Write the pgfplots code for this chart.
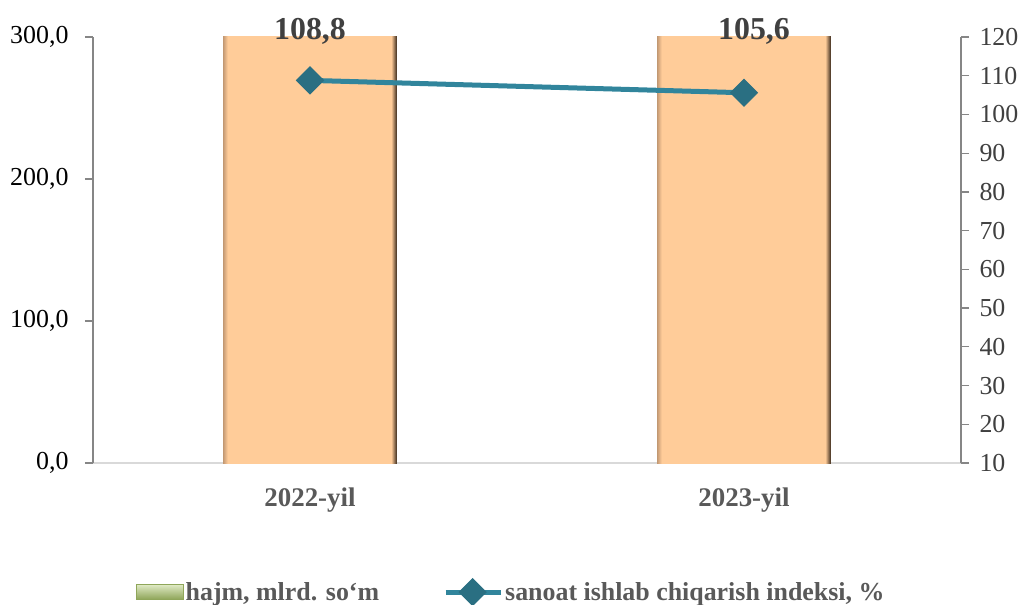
\documentclass[border=0pt]{standalone}
\usepackage{fontspec}
\setmainfont{Liberation Serif}
\usepackage{pgfplots}
\pgfplotsset{compat=1.18}

\definecolor{peach}{HTML}{FFCC99}
\definecolor{edgeL}{HTML}{C49A74}
\definecolor{edgeR}{HTML}{3B2A1C}
\definecolor{linecol}{HTML}{31859C}
\definecolor{markcol}{HTML}{2A6F82}
\definecolor{axisgray}{HTML}{868686}
\definecolor{basegray}{HTML}{D9D9D9}
\definecolor{txtgray}{HTML}{595959}
\definecolor{lblgray}{HTML}{404040}
\definecolor{legbarA}{HTML}{E2ECC8}
\definecolor{legbarB}{HTML}{8FA65A}

% peach bars with a dark right edge and a light brown left edge
\pgfdeclarehorizontalshading{barshade}{100bp}{color(0bp)=(edgeL); color(25bp)=(edgeL);
  color(26.3bp)=(peach); color(73.4bp)=(peach); color(75bp)=(edgeR); color(100bp)=(edgeR)}

\begin{document}
\begin{tikzpicture}
\useasboundingbox (-93bp,-142bp) rectangle (934bp,463bp);

% bars, left axis
\begin{axis}[
  at={(0,0)}, anchor=south west,
  scale only axis, width=868bp, height=426bp,
  xmin=-0.5, xmax=1.5, ymin=0, ymax=300,
  axis y line*=left, axis x line*=bottom,
  x axis line style={draw=basegray, line width=1.3bp, -},
  y axis line style={draw=axisgray, line width=1.3bp, -},
  xtick={0,1}, xticklabels={2022-yil,2023-yil},
  major x tick style={draw=none},
  x tick label style={font=\fontsize{27}{31}\selectfont\bfseries, text=txtgray, yshift=-13bp},
  ytick={0,100,200,300},
  y tick style={draw=axisgray, line width=1.3bp},
  tick align=outside, major tick length=8bp,
  y tick label style={font=\fontsize{26}{30}\selectfont, text=black, xshift=-13bp},
  /pgf/number format/.cd, fixed, fixed zerofill, precision=1, use comma, assume math mode=true,
  /pgfplots/.cd,
  clip mode=individual,
]
% values above 300 are cut off at the top of the axis, as in the source
\addplot[ybar, bar width=0.4, draw=none, shading=barshade] coordinates {(0,330)};
\addplot[ybar, bar width=0.4, draw=none, shading=barshade] coordinates {(1,330)};
\end{axis}

% production index, right axis
\begin{axis}[
  at={(0,0)}, anchor=south west,
  scale only axis, width=868bp, height=426bp,
  xmin=-0.5, xmax=1.5, ymin=10, ymax=120,
  axis y line*=right, hide x axis,
  y axis line style={draw=axisgray, line width=1.3bp, -},
  ytick={10,20,...,120},
  y tick style={draw=axisgray, line width=1.3bp},
  tick align=outside, major tick length=8bp,
  y tick label style={font=\fontsize{26}{30}\selectfont, text=lblgray, xshift=7bp},
  /pgf/number format/assume math mode=true,
  clip mode=individual,
  legend columns=2,
  legend style={draw=none, fill=none, at={(0.482,-0.303)}, anchor=center,
    font=\fontsize{26}{30}\selectfont\bfseries, text=txtgray,
    /tikz/every even column/.append style={column sep=62bp}},
]
\addlegendimage{legend image code/.code={
  \shade[top color=legbarA, bottom color=legbarB, draw=legbarB] (0bp,-7bp) rectangle (47bp,8bp);}}
\addlegendentry{hajm, mlrd. so‘m}

\addplot[linecol, line width=5bp, mark=square*, mark size=9.5bp,
  mark options={rotate=45, fill=markcol, draw=markcol, line width=1bp},
  legend image code/.code={
    \draw[mark repeat=2, mark phase=2] plot coordinates {(0bp,0bp) (27bp,0bp) (55bp,0bp)};}]
  coordinates {(0,108.8) (1,105.6)};
\addlegendentry{sanoat ishlab chiqarish indeksi, \%}

\node[anchor=base, yshift=-3bp, font=\fontsize{32}{36}\selectfont\bfseries, text=lblgray]
  at (axis cs:0,120) {108,8};
\node[anchor=base, yshift=-3bp, xshift=10bp, font=\fontsize{32}{36}\selectfont\bfseries, text=lblgray]
  at (axis cs:1,120) {105,6};
\end{axis}
\end{tikzpicture}
\end{document}
